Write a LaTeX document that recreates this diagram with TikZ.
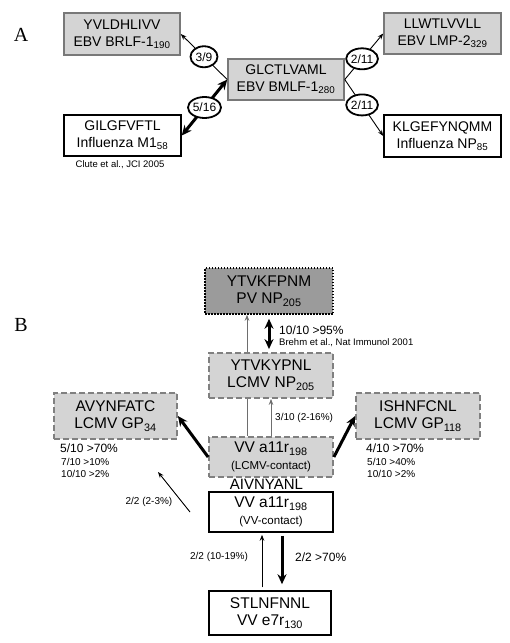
\documentclass[tikz,border=0pt]{standalone}
\usepackage{fontspec}
\setmainfont{Liberation Sans}
\newfontfamily\panelfont{Liberation Serif}
\usepackage{xcolor}
\definecolor{pepgray}{RGB}{212,212,212}
\definecolor{pvgray}{RGB}{155,155,155}
\definecolor{ebvline}{RGB}{120,120,120}
\definecolor{lcmvline}{RGB}{128,128,128}
\definecolor{linegray}{RGB}{110,110,110}
\usetikzlibrary{arrows.meta,positioning,shapes.geometric}

\begin{document}
\begin{tikzpicture}[x=1pt, y=-1pt,
  pep/.style={minimum width=116pt, minimum height=42pt, inner sep=0pt, align=center, font=\fontsize{14}{17}\selectfont},
  pepb/.style={pep, minimum width=124pt, minimum height=46pt, font=\fontsize{15.5}{17}\selectfont},
  ebv/.style={draw=ebvline, fill=pepgray, line width=1.5pt},
  flu/.style={draw=black, fill=white, line width=1.5pt},
  lcmv/.style={draw=lcmvline, fill=pepgray, line width=1.8pt, dash pattern=on 6pt off 3pt},
  pv/.style={draw=black, fill=pvgray, line width=1.5pt, dash pattern=on 1.5pt off 1.5pt},
  ratio/.style={ellipse, draw, line width=1.8pt, fill=white, inner sep=0pt, minimum width=27pt, minimum height=21pt, font=\fontsize{12}{14}\selectfont},
  thinarr/.style={-{Stealth[length=6pt,width=4.5pt]}, line width=0.9pt},
  thickarr/.style={-{Stealth[length=10pt,width=9pt]}, line width=3pt},
  thickboth/.style={{Stealth[length=10pt,width=9pt]}-{Stealth[length=10pt,width=9pt]}, line width=3pt},
  note/.style={font=\fontsize{10}{12}\selectfont, inner sep=0pt},
  bignote/.style={font=\fontsize{12}{14}\selectfont, inner sep=0pt},
  citenote/.style={font=\fontsize{9.5}{11}\selectfont, inner sep=0pt},
  panel/.style={font=\panelfont\fontsize{20}{24}\selectfont, inner sep=0pt}]
\useasboundingbox (0,0) rectangle (510,643);

% panel A
\node[panel] (pa) at (21,35) {A};
\node[pep, ebv] (brlf) at (122,34) {YVLDHLIVV\\EBV BRLF-1\textsubscript{190}};
\node[pep, flu, minimum width=117pt, minimum height=41pt] (m1) at (122.5,135.5) {GILGFVFTL\\Influenza M1\textsubscript{58}};
\node[pep, ebv, minimum height=41pt] (bmlf) at (286,79.5) {GLCTLVAML\\EBV BMLF-1\textsubscript{280}};
\node[pep, ebv, minimum width=117pt, minimum height=41pt] (lmp) at (442.5,33.5) {LLWTLVVLL\\EBV LMP-2\textsubscript{329}};
\node[pep, flu, minimum width=117pt] (np85) at (442.5,136) {KLGEFYNQMM\\Influenza NP\textsubscript{85}};
\node[citenote] (clute) at (120,165) {Clute et al., JCI 2005};
\draw[thinarr] (bmlf.west) -- node[ratio] {3/9} (brlf.east);
\draw[thickboth] (bmlf.west) -- node[ratio] {5/16} (m1.east);
\draw[thinarr] (bmlf.east) -- node[ratio, pos=0.45] {2/11} (lmp.west);
\draw[thinarr] (bmlf.east) -- node[ratio, pos=0.45] {2/11} (np85.west);

% panel B
\node[panel] (pb) at (21,325) {B};
\node[pepb, pv, minimum width=128pt] (pvnp) at (269,291) {YTVKFPNM\\PV NP\textsubscript{205}};
\node[pepb, lcmv, minimum height=45pt] (lcmvnp) at (271,375.5) {YTVKYPNL\\LCMV NP\textsubscript{205}};
\node[pepb, lcmv, minimum width=123pt] (gp34) at (115.5,416) {AVYNFATC\\LCMV GP\textsubscript{34}};
\node[pepb, lcmv] (gp118) at (418,416) {ISHNFCNL\\LCMV GP\textsubscript{118}};
\node[pepb, lcmv, minimum height=40pt] (vvlcmv) at (271,457) {VV a11r\textsubscript{198}\\{\fontsize{11.5}{13}\selectfont (LCMV-contact)}};
\node[font=\fontsize{15}{17}\selectfont, inner sep=0pt] (aivn) at (266.5,484) {AIVNYANL};
\node[pepb, flu, minimum height=40pt] (vvvv) at (271,512) {VV a11r\textsubscript{198}\\{\fontsize{11.5}{13}\selectfont (VV-contact)}};
\node[pepb, flu, minimum width=122pt, minimum height=44pt] (e7r) at (270,613) {STLNFNNL\\VV e7r\textsubscript{130}};

\draw[thinarr, linegray] ([xshift=-24pt]lcmvnp.north) -- ([xshift=-24pt]lcmvnp.north |- pvnp.south);
\draw[line width=0.9pt, linegray] ([xshift=-24pt]vvlcmv.north) -- ([xshift=-24pt]lcmvnp.south);
\draw[thickboth, shorten <=4pt, shorten >=3pt] (pvnp.south) -- (pvnp.south |- lcmvnp.north);
\node[bignote, anchor=west] (pv95) at (279,330) {10/10 >95\%};
\node[citenote, anchor=west] (brehm) at (279,343) {Brehm et al., Nat Immunol 2001};
\draw[thinarr, linegray] (vvlcmv.north) -- (vvlcmv.north |- lcmvnp.south);
\node[note, anchor=west] (np16) at (275,418) {3/10 (2-16\%)};

\draw[thickarr] (vvlcmv.west) -- (gp34.east);
\draw[thickarr] (vvlcmv.east) -- (gp118.west);
\node[bignote, anchor=west] (l70) at (60,448) {5/10 >70\%};
\node[note, anchor=west] (l10) at (61,461.5) {7/10 >10\%};
\node[note, anchor=west] (l2) at (61,473.5) {10/10 >2\%};
\node[bignote, anchor=west] (r70) at (366,448) {4/10 >70\%};
\node[note, anchor=west] (r40) at (367,461.5) {5/10 >40\%};
\node[note, anchor=west] (r2) at (367,473.5) {10/10 >2\%};

\coordinate (cvv) at (190,512);
\coordinate (cgp) at (158,472);
\draw[thinarr] (cvv) -- (cgp);
\node[note] (vv23) at (149,502) {2/2 (2-3\%)};

\draw[thinarr, shorten <=3pt, shorten >=2pt] ([xshift=-8pt]e7r.north) -- ([xshift=-8pt]e7r.north |- vvvv.south);
\draw[thickarr, shorten <=3pt, shorten >=6pt] ([xshift=12pt]e7r.north |- vvvv.south) -- ([xshift=12pt]e7r.north);
\node[note] (vv19) at (219,557) {2/2 (10-19\%)};
\node[bignote, anchor=west] (vv70) at (295,557) {2/2 >70\%};
\end{tikzpicture}
\end{document}
